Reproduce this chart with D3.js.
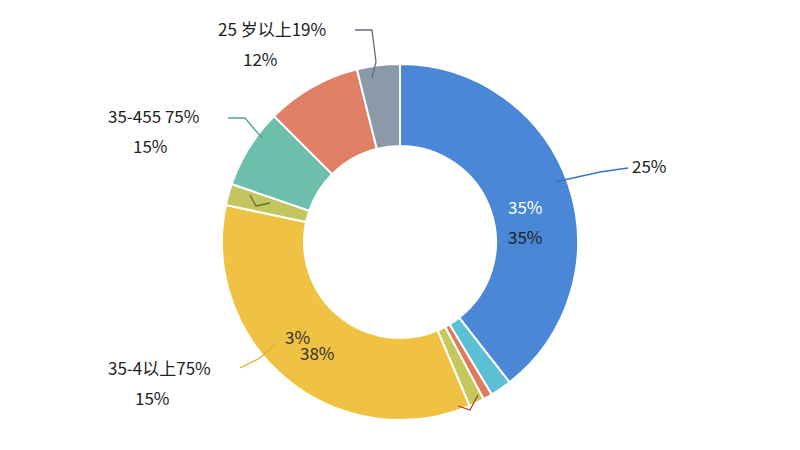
<!DOCTYPE html>
<html><head><meta charset="utf-8">
<script src="https://cdn.jsdelivr.net/npm/d3@7"></script>
<style>body{margin:0;background:#fff}text{font-family:"Noto Sans CJK SC","Noto Sans",sans-serif}</style>
</head><body><svg id="c" width="800" height="450"></svg>
<script>
// slice shares, clockwise from 12 o'clock
const segNames = ["blue","cyan","orange2","olive2","yellow","olive","teal","salmon","gray"];
const segValues = [142, 7, 3, 5, 125, 7, 26, 31, 14];
const segColors = ["#4a87d7","#5bc0d6","#e07a5c","#c7c85c","#f0c244","#c3c65e","#6cbfab","#df7f66","#8a9aa9"];

const svg = d3.select("#c");
const g = svg.append("g").attr("transform","translate(400,242)");
const pie = d3.pie().sort(null).value(d => d);
const arc = d3.arc().innerRadius(96).outerRadius(178);
g.selectAll("path.s").data(pie(segValues)).enter().append("path")
  .attr("class","s").attr("d", arc)
  .attr("fill",(d,i)=>segColors[i]).attr("stroke","#fff").attr("stroke-width",2);

// leader lines
const leaders = [
  {d:"M355,30 L372,30 L376,62 L372,78", c:"#5d6b7a"},
  {d:"M228,118 L245,118 L262,138", c:"#4aa58d"},
  {d:"M250,195 L256,206 L270,203", c:"#6a6a40"},
  {d:"M240,368 L260,358 L275,345", c:"#e0b030"},
  {d:"M555,182 L600,172 L628,168", c:"#3a72c2"},
  {d:"M458,406 L470,410 L478,395", c:"#b04020"}
];
svg.selectAll("path.l").data(leaders).enter().append("path")
  .attr("d",d=>d.d).attr("fill","none").attr("stroke",d=>d.c).attr("stroke-width",1.3);

const labels = [
  {t:"25 岁以上19%", x:218, y:36, c:"#222"},
  {t:"12%", x:243, y:66, c:"#222"},
  {t:"35-455 75%", x:108, y:123, c:"#222"},
  {t:"15%", x:133, y:153, c:"#222"},
  {t:"35-4以上75%", x:108, y:375, c:"#222"},
  {t:"15%", x:135, y:405, c:"#222"},
  {t:"25%", x:632, y:173, c:"#222"},
  {t:"35%", x:508, y:214, c:"#fff"},
  {t:"35%", x:508, y:244, c:"#222"},
  {t:"38%", x:300, y:360, c:"#333"},
  {t:"3%", x:285, y:344, c:"#333"}
];
svg.selectAll("text").data(labels).enter().append("text")
  .attr("x",d=>d.x).attr("y",d=>d.y).attr("fill",d=>d.c)
  .attr("font-size",17).text(d=>d.t);
</script></body></html>
